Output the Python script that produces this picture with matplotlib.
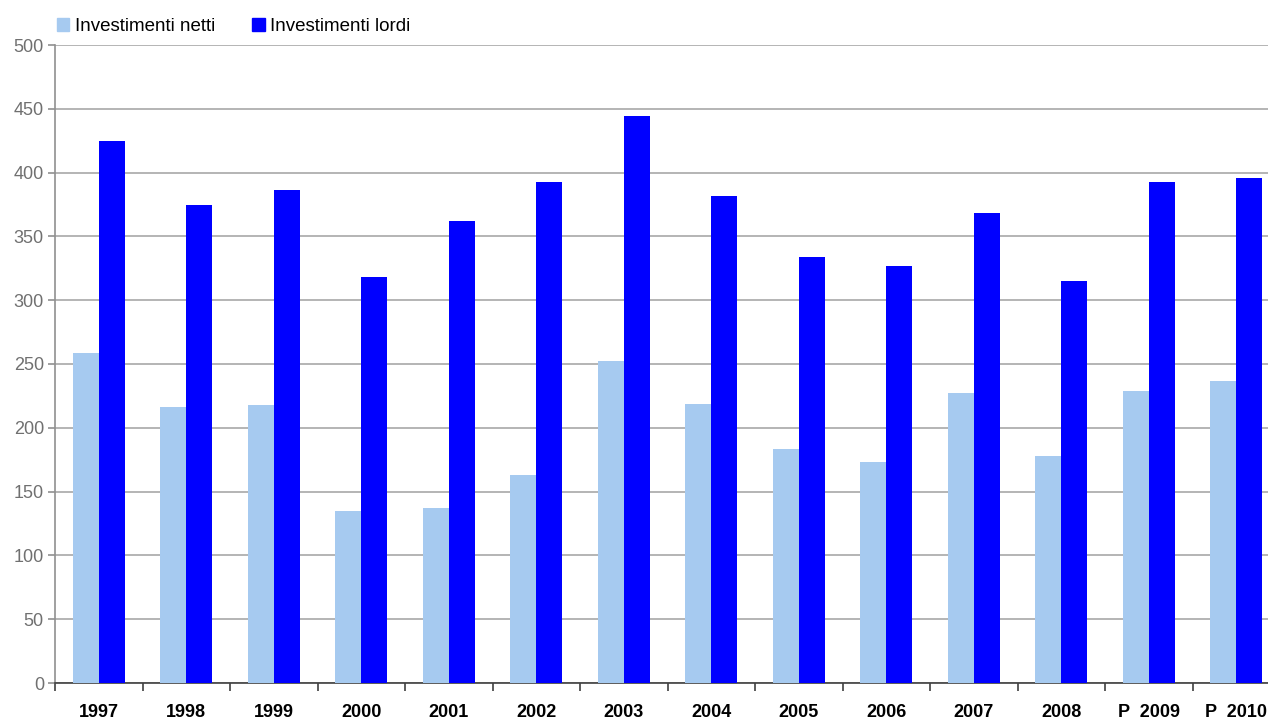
import numpy as np
import matplotlib.pyplot as plt
from matplotlib.patches import Patch

years = ["1997", "1998", "1999", "2000", "2001", "2002", "2003",
         "2004", "2005", "2006", "2007", "2008", "P  2009", "P  2010"]
netti = [259, 216, 218, 135, 137, 163, 252, 219, 183, 173, 227, 178, 229, 237]
lordi = [425, 375, 386, 318, 362, 393, 444, 382, 334, 327, 368, 315, 393, 396]

plt.rcParams['font.family'] = ['Liberation Sans', 'DejaVu Sans']

fig = plt.figure(figsize=(12.68, 7.2), dpi=100)
ax = fig.add_axes([55 / 1268, 37 / 720, 1225 / 1268, 638 / 720])

x = np.arange(len(years))
w = 0.295
ax.bar(x - w / 2, netti, w, color='#a6caf0', zorder=3)
ax.bar(x + w / 2, lordi, w, color='#0000ff', zorder=3)

ax.set_xlim(-0.5, len(years) - 0.5)
ax.set_ylim(0, 500)
ax.set_yticks(range(0, 501, 50))
ax.yaxis.grid(True, color='#a8a8a8', linewidth=1.2, zorder=0)
ax.tick_params(axis='y', colors='#909090', labelcolor='#707070', labelsize=13,
               length=5, width=1.2, pad=3)

ax.set_xticks(x)
ax.set_xticklabels(years, fontweight='bold', fontsize=13)
ax.set_xticks(np.arange(-0.5, len(years), 1), minor=True)
ax.tick_params(axis='x', which='major', length=0, pad=15)
ax.tick_params(axis='x', which='minor', length=6, width=1.2, color='#404040', direction='out')

for s in ['top', 'right']:
    ax.spines[s].set_visible(False)
ax.spines['left'].set_color('#909090')
ax.spines['left'].set_linewidth(1.2)
ax.spines['bottom'].set_color('#404040')
ax.spines['bottom'].set_linewidth(1.2)

handles = [Patch(color='#a6caf0', label='Investimenti netti'),
           Patch(color='#0000ff', label='Investimenti lordi')]
fig.legend(handles=handles, loc='upper left', bbox_to_anchor=(0.0315, 0.998), ncol=2,
           frameon=False, fontsize=13.5, handlelength=0.65, handleheight=0.65,
           handletextpad=0.3, columnspacing=2.0)

fig.savefig('out.png', dpi=100)
